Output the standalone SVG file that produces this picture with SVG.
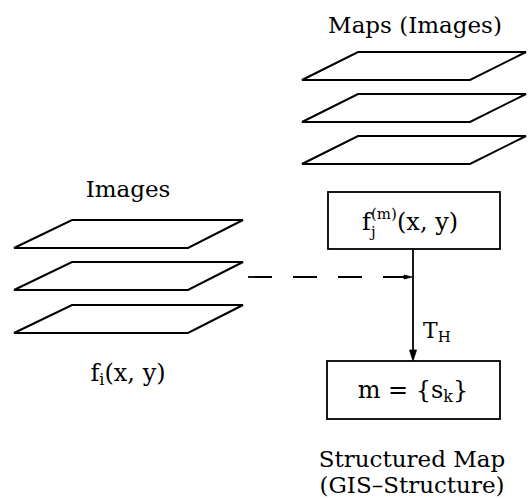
<svg xmlns="http://www.w3.org/2000/svg" width="528" height="499" viewBox="0 0 528 499">
<style>
.pl{fill:#fff;stroke:#000;stroke-width:2;stroke-linejoin:miter}
.bx{fill:#fff;stroke:#000;stroke-width:1.8}
.t{font-family:"DejaVu Serif","Liberation Serif",serif;font-size:23px;fill:#000;text-anchor:middle}
.m{font-family:"DejaVu Serif","Liberation Serif",serif;font-size:24px;fill:#000}
.s{font-family:"DejaVu Serif","Liberation Serif",serif;font-size:15px;fill:#000}
.ln{stroke:#000;stroke-width:1.8;fill:none}
.ah{fill:#000;stroke:#000;stroke-width:0.8;stroke-linejoin:miter}
</style>
<g id="maps">
<text class="t" x="415" y="33">Maps (Images)</text>
<polygon class="pl" points="358,52 526,52 470,80 302,80"/>
<polygon class="pl" points="358,94 526,94 470,122 302,122"/>
<polygon class="pl" points="358,136 526,136 470,164 302,164"/>
</g>
<g id="images">
<text class="t" x="128" y="197">Images</text>
<polygon class="pl" points="72,220 243,220 188,248 14,248"/>
<polygon class="pl" points="72,262 243,262 188,290 14,290"/>
<polygon class="pl" points="72,305 243,305 188,333 14,333"/>
<text class="m" x="128" y="381" text-anchor="middle">f<tspan style="font-size:16px" dy="4">i</tspan><tspan dy="-4">(x, y)</tspan></text>
</g>
<g id="fj">
<rect class="bx" x="328" y="192" width="172" height="57"/>
<text class="m" x="362" y="230">f</text>
<text class="s" x="371" y="219">(m)</text>
<text class="s" x="371" y="237">j</text>
<text class="m" x="397" y="230">(x, y)</text>
</g>
<g id="mset">
<rect class="bx" x="327" y="361" width="173" height="58"/>
<text class="m" x="413" y="398" text-anchor="middle">m = {s<tspan style="font-size:16px" dy="4">k</tspan><tspan dy="-4">}</tspan></text>
</g>
<g id="structured">
<text class="t" x="412" y="467">Structured Map</text>
<text class="t" x="412" y="493">(GIS–Structure)</text>
</g>
<g id="connectors">
<line class="ln" x1="248" y1="277" x2="405" y2="277" stroke-dasharray="24,21" stroke-width="1.3"/>
<polygon class="ah" points="404,275 412,277 404,279"/>
<line class="ln" x1="413" y1="249" x2="413" y2="352"/>
<polygon class="ah" points="409.5,350 413,361 416.5,350"/>
<text class="m" x="423" y="338" style="font-size:22px">T<tspan dy="4" style="font-size:15px">H</tspan></text>
</g>
</svg>
